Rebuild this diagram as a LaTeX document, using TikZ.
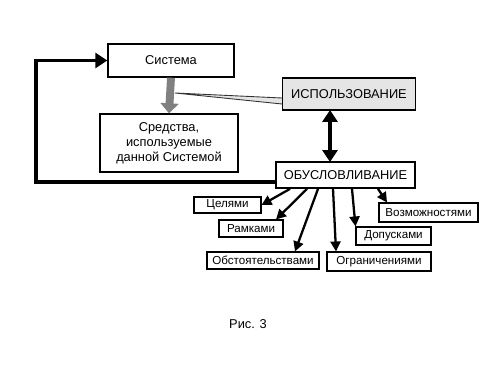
\documentclass[tikz,border=0pt]{standalone}
\usepackage{fontspec}
\setmainfont{Liberation Sans}
\usetikzlibrary{arrows.meta,positioning}

\begin{document}
\begin{tikzpicture}[
    x=0.02cm, y=-0.02cm,
    font=\fontsize{7.3}{8.6}\selectfont,
    mybox/.style={rectangle, draw, line width=0.8pt, fill=white, align=center, inner sep=1pt},
    smallbox/.style={rectangle, draw, line width=0.6pt, fill=white, inner sep=1pt, font=\fontsize{6.6}{7.5}\selectfont},
    grayarrow/.style={-{Triangle[width=0.36cm,length=0.2cm]}, line width=4.5pt, draw=black!50},
    feedback/.style={-{Triangle[width=0.3cm,length=0.24cm]}, line width=2.2pt},
    twoway/.style={{Triangle[width=0.3cm,length=0.24cm]}-{Triangle[width=0.3cm,length=0.24cm]}, line width=2.1pt},
    direction/.style={-{Triangle[width=0.2cm,length=0.2cm]}, line width=1.3pt}
]
    \useasboundingbox (0,0) rectangle (500,375);

    % Main boxes
    \node[mybox, minimum width=2.52cm, minimum height=0.66cm] (sys) at (171,60.5) {Система};
    \node[mybox, minimum width=2.76cm, minimum height=1.16cm] (sred) at (169,143) {Средства,\\используемые\\данной Системой};
    \coordinate (tip) at (175,93);
    \fill[black!10] (tip) -- (282,98) -- (282,104) -- cycle;
    \draw[line width=0.5pt, black!80] (282,98) -- (tip) -- (282,104);
    \node[mybox, fill=black!10, line width=0.6pt, minimum width=2.66cm, minimum height=0.64cm] (use) at (349,94) {ИСПОЛЬЗОВАНИЕ};
    \node[mybox, line width=1pt, minimum width=2.78cm, minimum height=0.52cm] (obus) at (345.5,175) {ОБУСЛОВЛИВАНИЕ};

    % Small boxes
    \node[smallbox, minimum width=1.34cm, minimum height=0.32cm] (cel) at (227.5,205) {Целями};
    \node[smallbox, minimum width=1.28cm, minimum height=0.34cm] (ram) at (251,228.5) {Рамками};
    \node[smallbox, minimum width=2.24cm, minimum height=0.34cm] (obst) at (263,260.5) {Обстоятельствами};
    \node[smallbox, minimum width=2.08cm, minimum height=0.38cm] (ogr) at (379,261.5) {Ограничениями};
    \node[smallbox, minimum width=1.5cm, minimum height=0.36cm] (dop) at (393.5,236) {Допусками};
    \node[smallbox, minimum width=1.98cm, minimum height=0.38cm] (voz) at (428.5,212.5) {Возможностями};

    % Connectors
    \draw[grayarrow] (sys.south) -- (sred.north);
    \draw[twoway] (330,110) -- (330,162);
    \draw[feedback] ([yshift=-0.14cm]obus.west) -| ([xshift=-1.42cm]sys.west) -- (sys.west);

    \draw[direction] ([xshift=-1.11cm]obus.south) -- (cel.east);
    \draw[direction] ([xshift=-0.77cm]obus.south) -- ([xshift=0.5cm]ram.north);
    \draw[direction] ([xshift=-0.55cm]obus.south) -- ([xshift=0.64cm]obst.north);
    \draw[direction] ([xshift=-0.25cm]obus.south) -- ([xshift=-0.86cm]ogr.north);
    \draw[direction] ([xshift=0.13cm]obus.south) -- (dop.north west);
    \draw[direction] ([xshift=0.65cm]obus.south) -- ([xshift=-0.83cm]voz.north);

    % Caption
    \node (cap) at (248,324) {Рис. 3};
\end{tikzpicture}
\end{document}
